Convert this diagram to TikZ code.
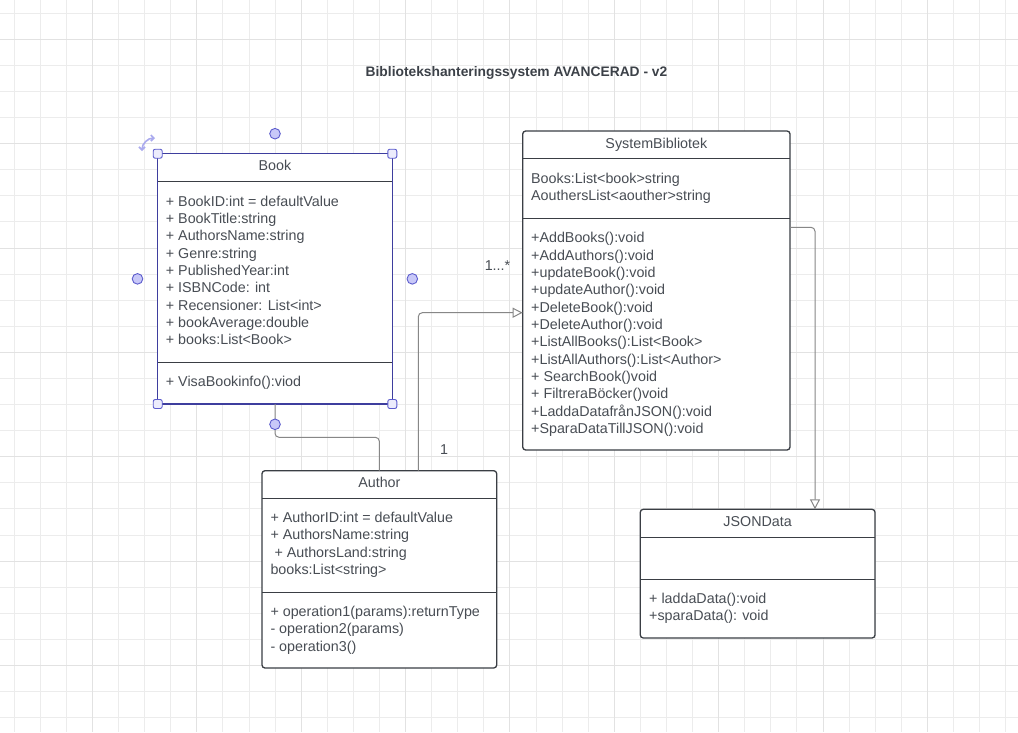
\documentclass[tikz,border=0pt]{standalone}
\usepackage{fontspec}
\setmainfont{Liberation Sans}
\usetikzlibrary{arrows.meta,calc}
\definecolor{txtc}{RGB}{72,77,84}
\definecolor{titlec}{RGB}{60,65,72}
\definecolor{linec}{RGB}{58,62,68}
\definecolor{gridminor}{RGB}{236,236,236}
\definecolor{gridmajor}{RGB}{226,226,226}
\definecolor{connc}{RGB}{135,135,135}
\definecolor{selc}{RGB}{62,62,158}
\definecolor{handlefill}{RGB}{200,200,248}
\definecolor{handlesqfill}{RGB}{236,236,252}
\definecolor{handledraw}{RGB}{92,92,205}
\definecolor{rotc}{RGB}{170,170,238}
\begin{document}
\begin{tikzpicture}[x=1pt,y=-1pt,
  classbox/.style={draw=linec, line width=1.3pt, rounded corners=3pt, fill=white,
    inner sep=0pt, outer sep=0pt, anchor=north west},
  selbox/.style={draw=selc, line width=1.4pt, fill=white,
    inner sep=0pt, outer sep=0pt, anchor=north west},
  sepline/.style={draw=linec, line width=1.3pt},
  txt/.style={font=\fontsize{14.3}{17.3}\selectfont, text=txtc, inner sep=0pt, anchor=base west},
  ctxt/.style={txt, anchor=base},
  conn/.style={draw=connc, line width=1pt, rounded corners=4pt},
  opentip/.style={-{Triangle[open, length=10pt, width=10pt, fill=white]}},
  handlesq/.style={draw=handledraw, fill=handlesqfill, line width=0.9pt, rounded corners=2pt,
    minimum size=9pt, inner sep=0pt},
  handlecirc/.style={draw=handledraw, fill=handlefill, line width=0.9pt, circle,
    minimum size=10.6pt, inner sep=0pt}
]
\useasboundingbox (0,0) rectangle (1018,732);
\fill[white] (0,0) rectangle (1018,732);
% grid
\foreach \k in {0,...,38} \draw[gridminor, line width=0.9pt] ({14.2+\k*26.09},0) -- ({14.2+\k*26.09},732);
\foreach \k in {0,...,27} \draw[gridminor, line width=0.9pt] (0,{13.2+\k*26.09}) -- (1018,{13.2+\k*26.09});
\foreach \k in {3,7,...,35} \draw[gridmajor, line width=0.9pt] ({14.2+\k*26.09},0) -- ({14.2+\k*26.09},732);
\foreach \k in {1,5,...,25} \draw[gridmajor, line width=0.9pt] (0,{13.2+\k*26.09}) -- (1018,{13.2+\k*26.09});

% title
\node[font=\fontsize{13.8}{16}\selectfont\bfseries, text=titlec, inner sep=0pt, anchor=base] (title) at (516.5,76) {Bibliotekshanteringssystem AVANCERAD - v2};

% boxes
\node[selbox, minimum width=234.6pt, minimum height=250.3pt] (book) at (157.7,153.7) {};
\node[classbox, minimum width=267.3pt, minimum height=319pt] (sys) at (522.7,131) {};
\node[classbox, minimum width=234.7pt, minimum height=197.3pt] (author) at (262,470.7) {};
\node[classbox, minimum width=234.7pt, minimum height=128.7pt] (json) at (640.3,509.3) {};

% separators
\draw[sepline] ($(book.north west)+(0.7,27.6)$) -- ($(book.north east)+(-0.7,27.6)$);
\draw[sepline] ($(book.north west)+(0.7,208.6)$) -- ($(book.north east)+(-0.7,208.6)$);
\draw[sepline] ($(sys.north west)+(0,27.7)$) -- ($(sys.north east)+(0,27.7)$);
\draw[sepline] ($(sys.north west)+(0,87.3)$) -- ($(sys.north east)+(0,87.3)$);
\draw[sepline] ($(author.north west)+(0,27.6)$) -- ($(author.north east)+(0,27.6)$);
\draw[sepline] ($(author.north west)+(0,121.6)$) -- ($(author.north east)+(0,121.6)$);
\draw[sepline] ($(json.north west)+(0,28)$) -- ($(json.north east)+(0,28)$);
\draw[sepline] ($(json.north west)+(0,70)$) -- ($(json.north east)+(0,70)$);

% Book texts
\node[ctxt] (booktitle) at (275,170.8) {Book};
\foreach \t [count=\i] in {+ BookID:int = defaultValue,+ BookTitle:string,+ AuthorsName:string,+ Genre:string,+ PublishedYear:int,+ ISBNCode: int,+ Recensioner: List<int>,+ bookAverage:double,+ books:List<Book>}
  \node[txt] (ba\i) at ({165.7},{206.1+(\i-1)*17.34}) {\t};
\node[txt] (bm1) at (165.7,386.8) {+ VisaBookinfo():viod};

% SystemBibliotek texts
\node[ctxt] (systitle) at (656.35,148.4) {SystemBibliotek};
\node[txt] (sa1) at (531,183.4) {Books:List<book>string};
\node[txt] (sa2) at (531,200.8) {AouthersList<aouther>string};
\foreach \t [count=\i] in {+AddBooks():void,+AddAuthors():void,+updateBook():void,+updateAuthor():void,+DeleteBook():void,+DeleteAuthor():void,+ListAllBooks():List<Book>,+ListAllAuthors():List<Author>,+ SearchBook()void,+ FiltreraBöcker()void,+LaddaDatafrånJSON():void,+SparaDataTillJSON():void}
  \node[txt] (sm\i) at ({531},{242.8+(\i-1)*17.33}) {\t};

% Author texts
\node[ctxt] (authortitle) at (379.35,487.4) {Author};
\node[txt] (aa1) at (270.3,522.4) {+ AuthorID:int = defaultValue};
\node[txt] (aa2) at (270.3,539.7) {+ AuthorsName:string};
\node[txt] (aa3) at (274.3,557.0) {+ AuthorsLand:string};
\node[txt] (aa4) at (270.3,574.4) {books:List<string>};
\node[txt] (am1) at (270.3,616.4) {+ operation1(params):returnType};
\node[txt] (am2) at (270.3,633.7) {- operation2(params)};
\node[txt] (am3) at (270.3,651.0) {- operation3()};

% JSONData texts
\node[ctxt] (jsontitle) at (757.65,526.8) {JSONData};
\node[txt] (jm1) at (649,603.4) {+ laddaData():void};
\node[txt] (jm2) at (649,620.8) {+sparaData(): void};

% connectors
\draw[conn] (book.south) -- ($(book.south)+(0,33.3)$) -| (author.north);
\draw[conn, opentip] ($(author.north west)+(156.3,0)$) |- ($(sys.north west)+(0,181.7)$);
\draw[conn, opentip] ($(sys.north east)+(0,96.3)$) -| ($(json.north west)+(174.7,0)$);

% multiplicity labels
\node[txt, anchor=base] (m1) at (497.5,270.1) {1...*};
\node[txt, anchor=base] (m2) at (444,454.1) {1};

% selection handles
\node[handlesq] (hnw) at (book.north west) {};
\node[handlesq] (hne) at (book.north east) {};
\node[handlesq] (hsw) at (book.south west) {};
\node[handlesq] (hse) at (book.south east) {};
\node[handlecirc] (hn) at ($(book.north)+(0,-20)$) {};
\node[handlecirc] (hs) at ($(book.south)+(0,20.3)$) {};
\node[handlecirc] (hw) at ($(book.west)+(-20.2,0)$) {};
\node[handlecirc] (he) at ($(book.east)+(20,0)$) {};
\draw[rotc, line width=1.6pt, {Straight Barb[length=3pt]}-{Straight Barb[length=3pt]}] (142,151) arc[start angle=180, end angle=270, radius=13];
\end{tikzpicture}
\end{document}
